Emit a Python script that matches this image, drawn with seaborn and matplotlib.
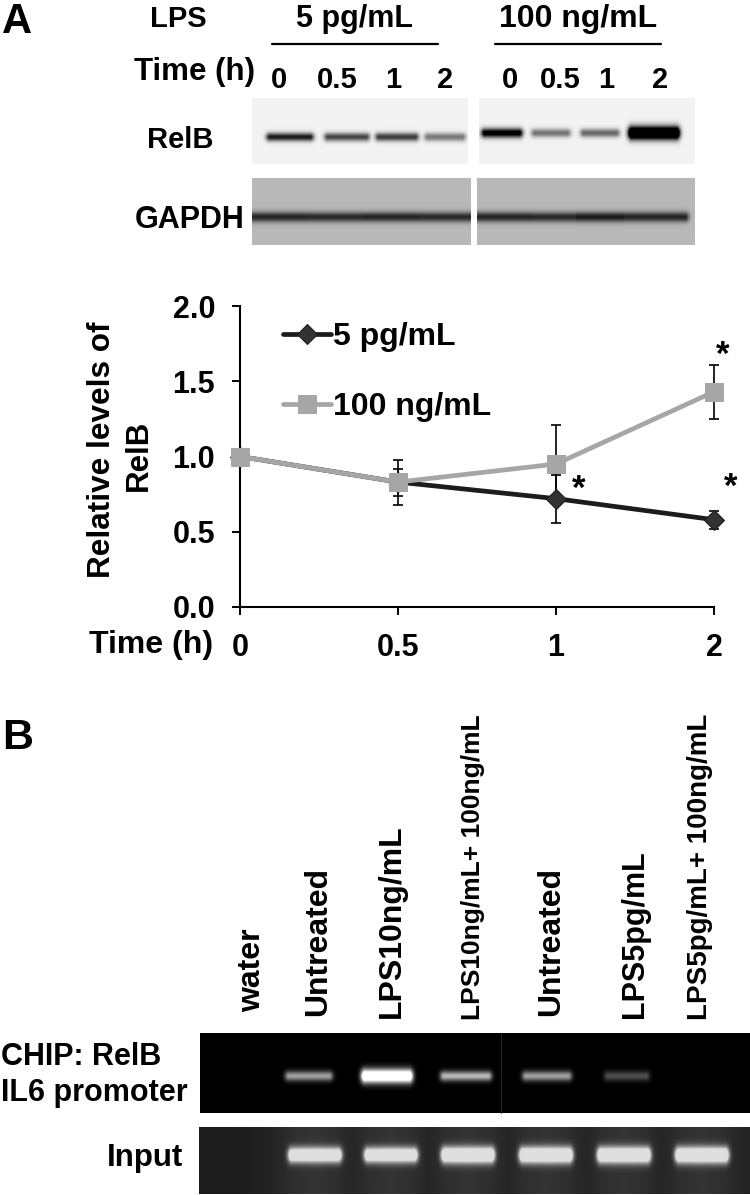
import numpy as np
import seaborn as sns
import matplotlib
matplotlib.use('Agg')
import matplotlib.pyplot as plt

W, H = 750, 1195

time_labels = ['0', '0.5', '1', '2']
low_dose = [1.0, 0.83, 0.72, 0.58]
low_err = [0.0, 0.15, 0.16, 0.06]
high_dose = [1.0, 0.83, 0.95, 1.43]
high_err = [0.0, 0.09, 0.26, 0.18]
y_ticks = [0.0, 0.5, 1.0, 1.5, 2.0]

# band strength per lane, read by eye from the gels
relb_low = [0.85, 0.68, 0.72, 0.48]
relb_high = [1.05, 0.50, 0.55, 1.60]
gapdh_low = [0.58, 0.56, 0.58, 0.56]
gapdh_high = [0.58, 0.56, 0.62, 0.58]
chip_bands = [0.62, 1.40, 0.72, 0.62, 0.30]
input_bands = [1.10, 1.10, 1.20, 1.20, 1.20, 1.20]
gel_labels = ['water', 'Untreated', 'LPS10ng/mL', 'LPS10ng/mL+ 100ng/mL',
              'Untreated', 'LPS5pg/mL', 'LPS5pg/mL+ 100ng/mL']

sns.set_theme(style='white')
plt.rcParams['font.family'] = ['Liberation Sans', 'DejaVu Sans']
plt.rcParams['font.weight'] = 'bold'

fig = plt.figure(figsize=(W / 100, H / 100), dpi=100)


def px_axes(x0, y0, x1, y1):
    return fig.add_axes([x0 / W, 1 - y1 / H, (x1 - x0) / W, (y1 - y0) / H])


def label(x, y, s, size=22, **kw):
    kw.setdefault('ha', 'center')
    kw.setdefault('va', 'center')
    fig.text(x / W, 1 - y / H, s, fontsize=size, fontweight='bold', color='black', **kw)


def gel(box, bg, strengths, centers, half, yc, thick, sign=1, cap=1.0, glow=0.0):
    # paint the bands on a pixel grid, then show it as a heatmap
    x0, y0, x1, y1 = box
    xx, yy = np.meshgrid(np.arange(x0, x1) + 0.5, np.arange(y0, y1) + 0.5)
    bands = np.zeros(xx.shape)
    shade = np.zeros(xx.shape)
    for s, c, h in zip(strengths, centers, half):
        across = np.exp(-np.maximum(np.abs(xx - c) - h, 0) ** 2 / 18.0)
        sigma = thick * (1 + 0.8 * max(s - 0.9, 0))
        down = np.exp(-(yy - yc) ** 2 / (2 * sigma ** 2))
        bands = np.maximum(bands, s * across * down)
        shade = np.maximum(shade, glow * np.exp(-(xx - c) ** 2 / (2 * 30.0 ** 2)))
    img = np.minimum(bg + shade + sign * bands, cap)
    ax = px_axes(x0, y0, x1, y1)
    sns.heatmap(img, ax=ax, cmap='gray', vmin=0, vmax=1, cbar=False,
                xticklabels=False, yticklabels=False, rasterized=True)
    return ax


# western blots, panel A
gel((252, 98, 468, 164), 0.95, relb_low, [290, 347, 397, 445], [20, 19, 18, 17], 137, 3.0, sign=-1)
gel((479, 98, 695, 164), 0.95, relb_high, [502, 551, 600, 654], [17, 16, 16, 22], 133, 3.0, sign=-1)
gel((252, 178, 471, 245), 0.72, gapdh_low, [280, 335, 390, 445], [28, 27, 28, 26], 217, 3.6, sign=-1)
gel((477, 178, 695, 245), 0.72, gapdh_high, [505, 555, 600, 654], [28, 22, 23, 31], 217, 3.6, sign=-1)

# header labels
label(2, 2, 'A', size=30, ha='left', va='top')
label(178, 19, 'LPS', size=21)
label(355, 19, '5 pg/mL')
label(578, 19, '100 ng/mL', size=23)
fig.add_artist(plt.Line2D([272 / W, 438 / W], [1 - 44 / H] * 2, color='black', lw=1.6))
fig.add_artist(plt.Line2D([495 / W, 661 / W], [1 - 44 / H] * 2, color='black', lw=1.6))
label(194, 72, 'Time (h)', size=22.5)
for x, t in zip([279, 337, 393, 445, 510, 560, 606, 660], time_labels * 2):
    label(x, 80, t, size=21)
label(180, 140, 'RelB', size=21)
label(190, 220, 'GAPDH')

# line chart
ax = px_axes(240, 306, 714, 607)
xpos = list(range(len(time_labels)))
ax.errorbar(xpos, low_dose, yerr=low_err, fmt='none', ecolor='black', elinewidth=1.2,
            capsize=3.5, capthick=1.2, clip_on=False, zorder=1)
ax.errorbar(xpos, high_dose, yerr=high_err, fmt='none', ecolor='black', elinewidth=1.2,
            capsize=3.5, capthick=1.2, clip_on=False, zorder=1)
sns.lineplot(x=xpos, y=low_dose, ax=ax, color='#1c1c1c', lw=3.4, marker='D', ms=10,
             mfc='#333333', mec='#1c1c1c', label='5 pg/mL', clip_on=False, zorder=3)
sns.lineplot(x=xpos, y=high_dose, ax=ax, color='#a6a6a6', lw=3.4, marker='s', ms=12.5,
             mfc='#a6a6a6', mec='#a6a6a6', label='100 ng/mL', clip_on=False, zorder=4)
ax.set_xlim(0, 3)
ax.set_ylim(0, 2)
ax.set_xticks(xpos)
ax.set_xticklabels(time_labels)
ax.set_yticks(y_ticks)
ax.set_yticklabels([f'{v:.1f}' for v in y_ticks])
ax.tick_params(axis='both', length=6, width=1.4, color='black', labelcolor='black',
               labelsize=22, left=True, bottom=True)
ax.tick_params(axis='x', pad=13)
ax.tick_params(axis='y', pad=12)
sns.despine(ax=ax)
for side in ['left', 'bottom']:
    ax.spines[side].set_color('black')
    ax.spines[side].set_linewidth(1.5)
ax.patch.set_alpha(0)
ax.legend(loc='upper left', bbox_to_anchor=(0.057, 1.0), frameon=False, fontsize=23,
          labelspacing=1.25, handlelength=1.5, handletextpad=0.05, borderpad=0,
          labelcolor='black')
label(102, 450, 'Relative levels of', size=22.7, rotation=90)
label(139, 455, 'RelB', size=22.5, rotation=90)
label(151, 645, 'Time (h)', size=23)
label(579, 489, '*', size=25)
label(731, 487, '*', size=25)
label(723, 355, '*', size=25)

# ChIP gels, panel B
label(2, 738, 'B', size=31, ha='left')
gel((200, 1033, 750, 1113), 0.0, chip_bands, [309, 387, 466, 547, 627], [20, 22, 22, 21, 19],
    1076, 3.5)
fig.add_artist(plt.Line2D([501 / W, 501 / W], [1 - 1033 / H, 1 - 1113 / H], color='#2a2a2a', lw=0.6))
gel((199, 1127, 750, 1194), 0.11, input_bands, [315, 391, 468, 546, 624, 702], [23, 23, 23, 23, 23, 23],
    1155, 4.5, cap=0.87, glow=0.09)

sizes = [23, 23, 23, 19, 23, 22, 20]
for x, y, s, fs in zip([252, 318, 392, 473, 551, 635, 700], [1012, 1016, 1018, 1020, 1016, 1018, 1020],
                       gel_labels, sizes):
    label(x, y, s, size=fs, rotation=90, va='bottom')
label(1, 1057, 'CHIP: RelB', ha='left')
label(1, 1093, 'IL6 promoter', ha='left')
label(145, 1158, 'Input', size=22.5)

fig.savefig('out.png', dpi=100)
